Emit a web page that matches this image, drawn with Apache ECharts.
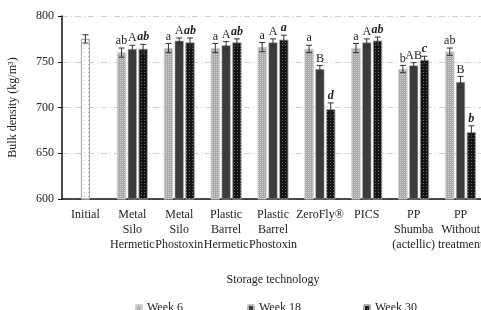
<!DOCTYPE html>
<html>
<head>
<meta charset="utf-8">
<script src="https://cdn.jsdelivr.net/npm/echarts@6/dist/echarts.min.js"></script>
<style>
  html, body { margin: 0; padding: 0; background: #fff; }
  #chart { width: 481px; height: 310px; }
</style>
</head>
<body>
<div id="chart"></div>
<script>
// data
const categories = ['Initial', 'Metal\nSilo\nHermetic', 'Metal\nSilo\nPhostoxin', 'Plastic\nBarrel\nHermetic',
    'Plastic\nBarrel\nPhostoxin', 'ZeroFly®', 'PICS', 'PP\nShumba\n(actellic)', 'PP\nWithout\ntreatment'];
const initial = [775, null, null, null, null, null, null, null, null];
const initialErr = [4.5, null, null, null, null, null, null, null, null];
const week6 = [null, 760, 765, 765, 766, 764, 765, 742, 761];
const week18 = [null, 764, 773, 768, 771, 742, 771, 746, 728];
const week30 = [null, 764, 771, 771, 774, 698, 773, 752, 673];
const err6 = [null, 5, 5, 5, 5, 4, 5, 4, 4];
const err18 = [null, 4, 3, 4, 4, 4, 4, 3, 6];
const err30 = [null, 5, 5, 4, 5, 7, 4, 4, 7];
const letters6 = ['', 'ab', 'a', 'a', 'a', 'a', 'a', 'b', 'ab'];
const letters18 = ['', 'A', 'A', 'A', 'A', 'B', 'A', 'AB', 'B'];
const letters30 = ['', 'ab', 'ab', 'ab', 'a', 'd', 'ab', 'c', 'b'];

const FONT = 'Liberation Serif';
const BAR_W = 9;
const SLOT = BAR_W * 1.2;

function errPoints(values, errs, letters, slot, style) {
    const out = [];
    values.forEach((v, i) => {
        if (v == null) return;
        out.push([i, v, errs[i], slot, letters[i], style]);
    });
    return out;
}

const errData = []
    .concat(errPoints(initial, initialErr, categories.map(() => ''), 0, 0))
    .concat(errPoints(week6, err6, letters6, -1, 0))
    .concat(errPoints(week18, err18, letters18, 0, 0))
    .concat(errPoints(week30, err30, letters30, 1, 1));

function renderErr(params, api) {
    const cat = api.value(0), v = api.value(1), e = api.value(2), slot = api.value(3);
    const item = errData[params.dataIndex];
    const top = api.coord([cat, v + e]);
    const bot = api.coord([cat, v - e]);
    const x = top[0] + slot * SLOT;
    const line = { stroke: '#333', lineWidth: 1 };
    const children = [
        { type: 'line', shape: { x1: x, y1: top[1], x2: x, y2: bot[1] }, style: line },
        { type: 'line', shape: { x1: x - 3, y1: top[1], x2: x + 3, y2: top[1] }, style: line },
        { type: 'line', shape: { x1: x - 3, y1: bot[1], x2: x + 3, y2: bot[1] }, style: line }
    ];
    if (item[4]) {
        children.push({
            type: 'text',
            style: {
                text: item[4], x: x, y: top[1] - 1,
                align: 'center', verticalAlign: 'bottom',
                font: (item[5] ? 'italic bold ' : '') + '12px "' + FONT + '"',
                fill: '#222'
            }
        });
    }
    return { type: 'group', children: children };
}

const chart = echarts.init(document.getElementById('chart'));

const legendBase = {
    bottom: -9, itemWidth: 6, itemHeight: 6, itemGap: 4,
    textStyle: { fontFamily: FONT, fontSize: 12, color: '#222' }
};

chart.setOption({
    animation: false,
    backgroundColor: '#fff',
    textStyle: { fontFamily: FONT },
    legend: [
        Object.assign({ left: 130, data: ['Week 6'] }, legendBase),
        Object.assign({ left: 242, data: ['Week 18'] }, legendBase),
        Object.assign({ left: 358, data: ['Week 30'] }, legendBase)
    ],
    grid: { left: 62, top: 16, width: 422, height: 183, outerBoundsMode: 'none', containLabel: false },
    xAxis: {
        type: 'category',
        data: categories,
        name: 'Storage technology',
        nameLocation: 'middle',
        nameGap: 75,
        nameTextStyle: { fontFamily: FONT, fontSize: 12, color: '#222' },
        axisLine: { lineStyle: { color: '#111', width: 1.5 } },
        axisTick: { length: 4, lineStyle: { color: '#111' } },
        axisLabel: { fontFamily: FONT, fontSize: 12, color: '#222', lineHeight: 15, margin: 8, interval: 0 }
    },
    yAxis: {
        type: 'value',
        min: 600, max: 800, interval: 50,
        name: 'Bulk density (kg/m³)',
        nameLocation: 'middle',
        nameGap: 43,
        nameTextStyle: { fontFamily: FONT, fontSize: 12, color: '#222' },
        axisLine: { show: true, lineStyle: { color: '#111', width: 1.5 } },
        axisTick: { show: true, length: 4, lineStyle: { color: '#111' } },
        axisLabel: { fontFamily: FONT, fontSize: 12, color: '#222', margin: 8 },
        splitLine: { lineStyle: { color: '#cfcfcf', type: [6, 3, 1, 3] } }
    },
    series: [
        {
            name: 'Week 6', type: 'bar', data: week6, barWidth: BAR_W, barGap: '20%',
            itemStyle: {
                color: '#a9a9a9', borderColor: '#d0d0d0', borderWidth: 0.5,
                decal: { symbol: 'rect', symbolSize: 1, color: 'rgba(255,255,255,0.45)', dashArrayX: [1, 1], dashArrayY: [1, 1] }
            }
        },
        {
            name: 'Week 18', type: 'bar', stack: 'mid', data: week18, barWidth: BAR_W,
            itemStyle: { color: '#3c3c3c', borderColor: '#bbb', borderWidth: 0.5 }
        },
        {
            name: 'Initial', type: 'bar', stack: 'mid', data: initial, barWidth: BAR_W,
            itemStyle: {
                color: '#fff', borderColor: '#aaa', borderWidth: 1,
                decal: { symbol: 'rect', symbolSize: 1, color: 'rgba(120,120,120,0.5)', dashArrayX: [1, 3], dashArrayY: [1, 3] }
            }
        },
        {
            name: 'Week 30', type: 'bar', data: week30, barWidth: BAR_W, barGap: '20%',
            itemStyle: {
                color: '#141414', borderColor: '#aaa', borderWidth: 0.5,
                decal: { symbol: 'rect', symbolSize: 1, color: 'rgba(255,255,255,0.35)', dashArrayX: [1, 2], dashArrayY: [1, 2] }
            }
        },
        {
            type: 'custom', renderItem: renderErr, data: errData,
            encode: { x: 0, y: 1 }, z: 10, silent: true
        }
    ]
});
</script>
</body>
</html>
